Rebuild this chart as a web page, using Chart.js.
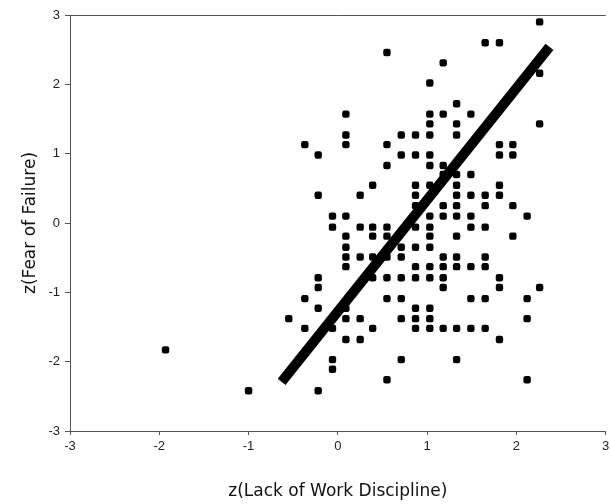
<!DOCTYPE html>
<html>
<head>
<meta charset="utf-8">
<script src="https://cdn.jsdelivr.net/npm/chart.js@4.4.0/dist/chart.umd.min.js"></script>
<style>
  body { margin: 0; background: #fff; }
  #wrap { width: 610px; height: 504px; }
</style>
</head>
<body>
<div id="wrap"><canvas id="myChart" width="610" height="504"></canvas></div>
<script>
// z-scores, one row of the plot per line
const discipline = [
  2.26,
  1.65, 1.81,
  0.55,
  1.18,
  2.26,
  1.03,
  1.33,
  0.09, 1.03, 1.18, 1.49,
  1.03, 1.33, 2.26,
  0.09, 0.71, 0.87, 1.03, 1.33,
  -0.37, 0.09, 0.55, 1.81, 1.96,
  -0.22, 0.71, 0.87, 1.03, 1.81, 1.96,
  0.55, 1.03, 1.18,
  1.18, 1.33, 1.49,
  0.39, 0.87, 1.03, 1.33, 1.81,
  -0.22, 0.25, 0.87, 1.33, 1.49, 1.65, 1.81,
  0.87, 1.18, 1.33, 1.65, 1.96,
  -0.06, 0.09, 1.03, 1.18, 1.33, 1.49, 2.12,
  -0.06, 0.25, 0.39, 0.55, 0.87, 1.03, 1.49, 1.65,
  0.09, 0.39, 0.55, 1.03, 1.33, 1.96,
  0.09, 0.71, 0.87, 1.03,
  0.09, 0.25, 0.39, 0.55, 0.71, 1.18, 1.33, 1.65,
  0.09, 0.87, 1.03, 1.18, 1.33, 1.49, 1.65,
  -0.22, 0.39, 0.55, 0.71, 0.87, 1.03, 1.18, 1.81,
  -0.22, 1.18, 1.81, 2.26,
  -0.37, 0.55, 0.71, 1.49, 1.65, 2.12,
  -0.22, 0.09, 0.87, 1.03,
  -0.55, 0.09, 0.25, 0.71, 0.87, 1.03, 2.12,
  -0.37, -0.06, 0.39, 0.87, 1.03, 1.18, 1.33, 1.49, 1.65,
  0.09, 0.25, 1.81,
  -1.93,
  -0.06, 0.71, 1.33,
  -0.06,
  0.55, 2.12,
  -1.0, -0.22
];
const fear = [
  2.90,
  2.60, 2.60,
  2.46,
  2.31,
  2.16,
  2.02,
  1.72,
  1.57, 1.57, 1.57, 1.57,
  1.43, 1.43, 1.43,
  1.27, 1.27, 1.27, 1.27, 1.27,
  1.13, 1.13, 1.13, 1.13, 1.13,
  0.98, 0.98, 0.98, 0.98, 0.98, 0.98,
  0.83, 0.83, 0.83,
  0.70, 0.70, 0.70,
  0.545, 0.545, 0.545, 0.545, 0.545,
  0.40, 0.40, 0.40, 0.40, 0.40, 0.40, 0.40,
  0.25, 0.25, 0.25, 0.25, 0.25,
  0.10, 0.10, 0.10, 0.10, 0.10, 0.10, 0.10,
  -0.06, -0.06, -0.06, -0.06, -0.06, -0.06, -0.06, -0.06,
  -0.19, -0.19, -0.19, -0.19, -0.19, -0.19,
  -0.35, -0.35, -0.35, -0.35,
  -0.49, -0.49, -0.49, -0.49, -0.49, -0.49, -0.49, -0.49,
  -0.63, -0.63, -0.63, -0.63, -0.63, -0.63, -0.63,
  -0.79, -0.79, -0.79, -0.79, -0.79, -0.79, -0.79, -0.79,
  -0.93, -0.93, -0.93, -0.93,
  -1.09, -1.09, -1.09, -1.09, -1.09, -1.09,
  -1.23, -1.23, -1.23, -1.23,
  -1.38, -1.38, -1.38, -1.38, -1.38, -1.38, -1.38,
  -1.52, -1.52, -1.52, -1.52, -1.52, -1.52, -1.52, -1.52, -1.52,
  -1.68, -1.68, -1.68,
  -1.83,
  -1.97, -1.97, -1.97,
  -2.11,
  -2.26, -2.26,
  -2.42, -2.42
];
// fit line ends
const fitX = [-0.63, 2.37];
const fitY = [-2.29, 2.54];
const ticksZ = [-3, -2, -1, 0, 1, 2, 3];

const points = discipline.map((x, i) => ({ x: x, y: fear[i] }));
const fitLine = fitX.map((x, i) => ({ x: x, y: fitY[i] }));

// top edge of the frame
const frameTop = {
  id: 'frameTop',
  afterDraw(chart) {
    const a = chart.chartArea;
    const c = chart.ctx;
    c.save();
    c.strokeStyle = '#555';
    c.lineWidth = 1;
    c.beginPath();
    c.moveTo(a.left, Math.round(a.top) + 0.5);
    c.lineTo(a.right, Math.round(a.top) + 0.5);
    c.stroke();
    c.restore();
  }
};

const ctx = document.getElementById('myChart').getContext('2d');

const scatter = new Chart(ctx, {
  type: 'scatter',
  data: {
    datasets: [{
      data: points,
      backgroundColor: '#000',
      borderColor: '#000',
      pointStyle: 'rectRounded',
      pointRadius: 4.3,
      pointHoverRadius: 4.3,
      borderWidth: 0
    }, {
      type: 'line',
      data: fitLine,
      borderColor: '#000',
      borderWidth: 10,
      borderCapStyle: 'butt',
      pointRadius: 0,
      fill: false
    }]
  },
  options: {
    responsive: false,
    animation: false,
    layout: { padding: { top: 15, left: 0, right: 0, bottom: 0 } },
    plugins: {
      legend: { display: false },
      tooltip: { enabled: false }
    },
    scales: {
      x: {
        type: 'linear',
        min: -3,
        max: 3,
        afterBuildTicks: (s) => { s.ticks = ticksZ.map(v => ({ value: v })); },
        afterFit: (s) => { s.height = 73; s.paddingLeft = 0; s.paddingRight = 0; },
        ticks: {
          color: '#222',
          padding: 4,
          maxRotation: 0,
          font: { family: 'Liberation Sans', size: 13 }
        },
        grid: { drawOnChartArea: false, tickLength: 4, color: '#555' },
        border: { color: '#555', width: 1 },
        title: {
          display: true,
          text: 'z(Lack of Work Discipline)',
          color: '#111',
          padding: { top: 0, bottom: 2 },
          font: { family: 'DejaVu Sans', size: 17 }
        }
      },
      y: {
        type: 'linear',
        min: -3,
        max: 3,
        afterBuildTicks: (s) => { s.ticks = ticksZ.map(v => ({ value: v })); },
        afterFit: (s) => { s.width = 70; s.paddingTop = 0; s.paddingBottom = 0; },
        ticks: {
          color: '#222',
          padding: 5,
          font: { family: 'Liberation Sans', size: 13 }
        },
        grid: { drawOnChartArea: false, tickLength: 5, color: '#555' },
        border: { color: '#555', width: 1 },
        title: {
          display: true,
          text: 'z(Fear of Failure)',
          color: '#111',
          padding: { top: 20, bottom: 0 },
          font: { family: 'DejaVu Sans', size: 17 }
        }
      }
    }
  },
  plugins: [frameTop]
});
</script>
</body>
</html>
